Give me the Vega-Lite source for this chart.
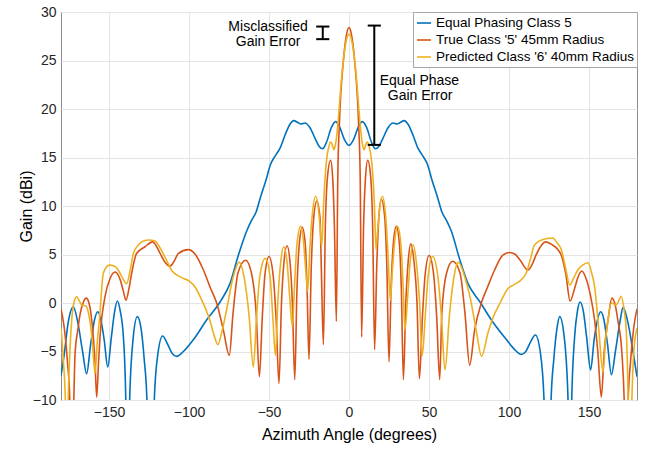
{
"$schema": "https://vega.github.io/schema/vega-lite/v6.json",
"width": 576, "height": 388,
"autosize": {"type": "none"},
"padding": {"left": 61, "top": 12, "right": 20, "bottom": 50},
"background": "white",
"config": {
 "font": "Liberation Sans",
 "view": {"stroke": "#8c8c8c", "strokeWidth": 1},
 "axis": {"gridColor": "#e4e4e4", "domain": false, "ticks": false, "labelColor": "#262626", "titleColor": "#000000", "labelFontSize": 14, "titleFontSize": 16, "titleFontWeight": "normal", "labelPadding": 5},
 "legend": {"orient": "top-right", "offset": 0, "fillColor": "white", "strokeColor": "#a6a6a6", "padding": 3, "labelFontSize": 13.5, "labelColor": "#000000", "symbolType": "stroke", "symbolSize": 196, "symbolStrokeWidth": 1.6, "rowPadding": 2, "labelOffset": 4, "labelLimit": 400}
},
"datasets": {
 "blue": [
  {"x":-180,"y":-7.5},{"x":-178,"y":-5.3},{"x":-175.5,"y":-2.0},{"x":-172.3,"y":-0.4},{"x":-169.5,"y":-2.0},{"x":-166.5,"y":-5.0},{"x":-164,"y":-7.3},{"x":-161.5,"y":-4.3},{"x":-159,"y":-1.7},{"x":-157,"y":-0.9},{"x":-155,"y":-1.8},{"x":-153,"y":-3.8},{"x":-150.8,"y":-6.6},{"x":-148.5,"y":-3.5},{"x":-146.5,"y":-0.9},{"x":-144.8,"y":0.2},{"x":-143,"y":-0.8},{"x":-141,"y":-3.5},{"x":-139.5,"y":-10},{"x":-138.3,"y":-25},{"x":-137.1,"y":-10},{"x":-135,"y":-3.8},{"x":-132.3,"y":-1.4},{"x":-130,"y":-2.6},{"x":-128,"y":-5.8},{"x":-126.3,"y":-10},{"x":-124,"y":-30},{"x":-121.7,"y":-10},{"x":-119.5,"y":-5.3},{"x":-116.5,"y":-3.4},{"x":-113.5,"y":-4.2},{"x":-110.5,"y":-5.2},{"x":-107.7,"y":-5.5},{"x":-103.5,"y":-5.0},{"x":-97.3,"y":-3.8},{"x":-89,"y":-1.75},{"x":-80.6,"y":0.1},{"x":-74.4,"y":2.0},{"x":-69,"y":5.0},{"x":-64,"y":7.4},{"x":-61,"y":8.5},{"x":-58,"y":9.4},{"x":-55.5,"y":10.8},{"x":-52,"y":12.6},{"x":-49,"y":14.3},{"x":-46,"y":15.2},{"x":-43,"y":16.0},{"x":-40,"y":17.3},{"x":-37,"y":18.4},{"x":-34.5,"y":18.8},{"x":-32,"y":18.6},{"x":-30,"y":18.45},{"x":-27.5,"y":18.55},{"x":-24.5,"y":18.1},{"x":-21,"y":16.9},{"x":-18.5,"y":16.1},{"x":-16.5,"y":15.9},{"x":-14,"y":16.6},{"x":-11,"y":18.1},{"x":-8.3,"y":18.7},{"x":-6,"y":18.2},{"x":-3,"y":16.9},{"x":0,"y":16.25},
  {"x":3,"y":16.9},{"x":6,"y":18.2},{"x":8.3,"y":18.7},{"x":11,"y":18.1},{"x":14,"y":16.6},{"x":16.5,"y":15.9},{"x":18.5,"y":16.1},{"x":21,"y":16.9},{"x":24.5,"y":18.1},{"x":27.5,"y":18.55},{"x":30,"y":18.45},{"x":32,"y":18.6},{"x":34.5,"y":18.8},{"x":37,"y":18.4},{"x":40,"y":17.3},{"x":43,"y":16.0},{"x":46,"y":15.2},{"x":49,"y":14.3},{"x":52,"y":12.6},{"x":55.5,"y":10.8},{"x":58,"y":9.4},{"x":61,"y":8.5},{"x":64,"y":7.4},{"x":69,"y":4.6},{"x":74.4,"y":2.0},{"x":81.9,"y":0.1},{"x":89,"y":-1.75},{"x":98.5,"y":-3.8},{"x":103.5,"y":-4.8},{"x":107.7,"y":-5.3},{"x":110.5,"y":-5.0},{"x":113.5,"y":-4.0},{"x":116.5,"y":-3.3},{"x":119.5,"y":-5.0},{"x":121.9,"y":-10},{"x":124,"y":-30},{"x":126.3,"y":-10},{"x":128,"y":-5.8},{"x":130,"y":-2.6},{"x":131.7,"y":-1.4},{"x":134.5,"y":-3.5},{"x":136.9,"y":-10},{"x":138,"y":-25},{"x":139.2,"y":-10},{"x":141,"y":-3.5},{"x":142.8,"y":-0.8},{"x":144.5,"y":0.1},{"x":146.5,"y":-0.9},{"x":148.5,"y":-3.5},{"x":151,"y":-6.9},{"x":153.2,"y":-3.8},{"x":155.2,"y":-1.8},{"x":157.3,"y":-0.9},{"x":159.3,"y":-1.7},{"x":161.6,"y":-4.3},{"x":164,"y":-7.4},{"x":166.5,"y":-5.0},{"x":169.3,"y":-2.0},{"x":171.3,"y":-0.45},{"x":174.3,"y":-2.0},{"x":177.5,"y":-5.0},{"x":180,"y":-7.6}
 ],
 "orange": [
  {"x":-180,"y":-0.6},{"x":-178,"y":-2.5},{"x":-176,"y":-6},{"x":-174.5,"y":-10},{"x":-173.3,"y":-20},{"x":-172,"y":-10},{"x":-171.2,"y":-5.2},{"x":-169.5,"y":-2.8},{"x":-168,"y":-1.1},{"x":-166,"y":0.1},{"x":-164.2,"y":0.5},{"x":-162.5,"y":0},{"x":-160.8,"y":-1.75},{"x":-158.7,"y":-6.2},{"x":-157.7,"y":-9.7},{"x":-156.5,"y":-6},{"x":-155.6,"y":-3.5},{"x":-152.5,"y":0.65},{"x":-149.4,"y":2.5},{"x":-146.2,"y":3.2},{"x":-143,"y":2.4},{"x":-141,"y":1.2},{"x":-139.4,"y":0.3},{"x":-137.5,"y":1.5},{"x":-135.8,"y":3.1},{"x":-132.8,"y":5.1},{"x":-127.5,"y":5.8},{"x":-122.7,"y":6.3},{"x":-118,"y":5.1},{"x":-115,"y":4.2},{"x":-111.9,"y":3.8},{"x":-109,"y":4.4},{"x":-106.7,"y":5.1},{"x":-100.4,"y":5.5},{"x":-96,"y":5.0},{"x":-91,"y":3.4},{"x":-86.5,"y":1.5},{"x":-82.7,"y":0},{"x":-78.5,"y":-2.8},{"x":-74.8,"y":-5.4},{"x":-72.5,"y":-1.1},{"x":-69.4,"y":3.1},{"x":-64.6,"y":4.4},{"x":-61,"y":3.1},{"x":-58,"y":-1.1},{"x":-56,"y":-7.6},{"x":-54.2,"y":-1.5},{"x":-52.5,"y":3.0},{"x":-50,"y":4.8},{"x":-47.5,"y":3.0},{"x":-45.6,"y":-1.5},{"x":-43.75,"y":-8.3},{"x":-42.2,"y":0},{"x":-40.7,"y":4.1},{"x":-38.75,"y":5.9},{"x":-36.8,"y":4.1},{"x":-35.4,"y":0},{"x":-33.9,"y":-7.9},{"x":-32.5,"y":1.5},{"x":-31.1,"y":6.0},{"x":-29.2,"y":7.8},{"x":-27.3,"y":6.0},{"x":-26.2,"y":1.5},{"x":-25,"y":-5.8},{"x":-23.6,"y":3.6},{"x":-22.1,"y":8.7},{"x":-20.1,"y":10.5},{"x":-18.1,"y":8.7},{"x":-17.3,"y":3.6},{"x":-16,"y":-4.3},{"x":-14.8,"y":7.8},{"x":-13.5,"y":12.9},{"x":-11.5,"y":14.7},{"x":-10.2,"y":12.9},{"x":-9.1,"y":7.8},{"x":-7.9,"y":-1.9},{"x":-7,"y":13},{"x":-6,"y":18.5},{"x":-3.5,"y":25},{"x":-1.4,"y":27.8},{"x":0,"y":28.4},
  {"x":1.4,"y":27.8},{"x":3.5,"y":25},{"x":6,"y":18.5},{"x":7,"y":13},{"x":7.9,"y":-3.5},{"x":9.1,"y":7.8},{"x":10.3,"y":12.9},{"x":11.7,"y":14.7},{"x":13.6,"y":12.9},{"x":14.8,"y":7.8},{"x":16,"y":-4.8},{"x":17.35,"y":3.8},{"x":18.7,"y":8.9},{"x":20.2,"y":10.7},{"x":22.3,"y":8.9},{"x":23.65,"y":3.8},{"x":25,"y":-6.05},{"x":26.3,"y":1.5},{"x":27.7,"y":6.1},{"x":29.6,"y":7.9},{"x":31.5,"y":6.1},{"x":32.7,"y":1.5},{"x":34,"y":-7.9},{"x":35.5,"y":0},{"x":37,"y":4.3},{"x":38.6,"y":6.1},{"x":40.6,"y":4.3},{"x":42.5,"y":0},{"x":44,"y":-7.8},{"x":45.9,"y":-1.4},{"x":47.7,"y":3.1},{"x":50.1,"y":4.9},{"x":52.8,"y":3.1},{"x":54.8,"y":-1.4},{"x":56.7,"y":-7.9},{"x":58,"y":-1.1},{"x":61,"y":3.1},{"x":64.8,"y":4.3},{"x":69.4,"y":3.1},{"x":72.5,"y":-1.1},{"x":75.4,"y":-6.4},{"x":78.5,"y":-2.8},{"x":82.7,"y":0},{"x":86.5,"y":1.6},{"x":91,"y":3.4},{"x":96,"y":4.9},{"x":100.2,"y":5.2},{"x":104,"y":5.0},{"x":107,"y":4.4},{"x":111.8,"y":3.4},{"x":114.5,"y":4.0},{"x":117.3,"y":5.1},{"x":122.9,"y":6.3},{"x":127,"y":6.0},{"x":130.6,"y":5.5},{"x":132.5,"y":5.0},{"x":135.5,"y":3.0},{"x":138.2,"y":0.2},{"x":141,"y":1.5},{"x":143,"y":2.6},{"x":145.5,"y":3.3},{"x":148,"y":2.6},{"x":151,"y":0.7},{"x":153.5,"y":-1.75},{"x":155.5,"y":-5},{"x":157.7,"y":-9.7},{"x":159.5,"y":-5},{"x":161.9,"y":-1.75},{"x":164.3,"y":0.5},{"x":166.5,"y":-0.3},{"x":168,"y":-1.75},{"x":170.5,"y":-5},{"x":172,"y":-10},{"x":173.3,"y":-20},{"x":174.5,"y":-10},{"x":176,"y":-6},{"x":178,"y":-2.5},{"x":180,"y":-0.6}
 ],
 "yellow": [
  {"x":-180,"y":-2.6},{"x":-178.5,"y":-6},{"x":-177.3,"y":-10},{"x":-176.5,"y":-20},{"x":-175.5,"y":-10},{"x":-174.3,"y":-4.5},{"x":-173.3,"y":-1.75},{"x":-171.5,"y":0.3},{"x":-170.2,"y":0.65},{"x":-168.5,"y":0.2},{"x":-167,"y":-0.2},{"x":-164.4,"y":-0.3},{"x":-162.5,"y":-1.3},{"x":-160.5,"y":-3.8},{"x":-158.75,"y":-7.25},{"x":-157.3,"y":-4},{"x":-156,"y":-1.75},{"x":-153.5,"y":3.1},{"x":-149.8,"y":3.9},{"x":-146.5,"y":3.8},{"x":-143.5,"y":3.2},{"x":-141,"y":2.4},{"x":-139,"y":2.0},{"x":-136.5,"y":3.6},{"x":-134.8,"y":5.1},{"x":-131.5,"y":6.0},{"x":-128.5,"y":6.4},{"x":-125,"y":6.5},{"x":-121.25,"y":6.4},{"x":-117.5,"y":5.5},{"x":-114,"y":4.4},{"x":-110.5,"y":3.3},{"x":-107.7,"y":2.9},{"x":-103,"y":2.5},{"x":-99.4,"y":2.2},{"x":-96,"y":1.6},{"x":-93,"y":0.65},{"x":-87,"y":-1.75},{"x":-84,"y":-3.5},{"x":-82,"y":-4.3},{"x":-79.5,"y":-3},{"x":-76.5,"y":-0.7},{"x":-72.5,"y":2.6},{"x":-68.6,"y":4.2},{"x":-65.5,"y":2.6},{"x":-62.5,"y":-1.2},{"x":-59.8,"y":-6.6},{"x":-57.8,"y":-1.5},{"x":-55.7,"y":2.8},{"x":-52.3,"y":4.6},{"x":-49.4,"y":2.8},{"x":-47.6,"y":-1.5},{"x":-46,"y":-5.4},{"x":-44.4,"y":0.4},{"x":-42.8,"y":4.0},{"x":-40.8,"y":5.8},{"x":-38.6,"y":4.0},{"x":-37,"y":0.5},{"x":-35.4,"y":-2.4},{"x":-34,"y":2.0},{"x":-32.5,"y":6.1},{"x":-30.2,"y":7.9},{"x":-28.3,"y":6.1},{"x":-27.1,"y":3.5},{"x":-25.8,"y":1.2},{"x":-24.5,"y":5.5},{"x":-22.9,"y":9.2},{"x":-20.8,"y":11},{"x":-18.8,"y":9.2},{"x":-17.8,"y":7.2},{"x":-17.1,"y":5.8},{"x":-15.8,"y":10.5},{"x":-14.2,"y":14.5},{"x":-12.5,"y":16.2},{"x":-11.4,"y":16.6},{"x":-10.4,"y":16.3},{"x":-9.5,"y":15.8},{"x":-8.6,"y":16.2},{"x":-7.7,"y":17.2},{"x":-6.7,"y":18.9},{"x":-4.6,"y":23.3},{"x":-2.5,"y":26.3},{"x":-1,"y":27.5},{"x":0,"y":27.7},
  {"x":1,"y":27.5},{"x":2.5,"y":26.3},{"x":4.6,"y":23.3},{"x":6.7,"y":18.9},{"x":7.7,"y":17.2},{"x":8.6,"y":16.2},{"x":9.5,"y":15.8},{"x":10.4,"y":16.3},{"x":11.4,"y":16.6},{"x":12.5,"y":16.2},{"x":14.2,"y":14.5},{"x":15.8,"y":10.5},{"x":16.9,"y":5.5},{"x":17.8,"y":7.3},{"x":19,"y":9.5},{"x":20.8,"y":11},{"x":22.8,"y":9.2},{"x":24.4,"y":5.0},{"x":25.8,"y":0.3},{"x":27.1,"y":3.3},{"x":28.4,"y":6.1},{"x":30.3,"y":7.9},{"x":32.4,"y":6.1},{"x":33.8,"y":1.8},{"x":35,"y":-2.8},{"x":36.6,"y":0.5},{"x":38.2,"y":4.2},{"x":40,"y":6.0},{"x":42.1,"y":4.2},{"x":44,"y":0.4},{"x":45.8,"y":-5.4},{"x":47.6,"y":-1.5},{"x":49.5,"y":2.8},{"x":52.3,"y":4.8},{"x":55.5,"y":2.8},{"x":57.8,"y":-1.5},{"x":60,"y":-6.9},{"x":62.8,"y":-1.2},{"x":65.5,"y":2.6},{"x":68.3,"y":4.2},{"x":72.5,"y":2.6},{"x":75.6,"y":0.65},{"x":79.8,"y":-3.1},{"x":82.8,"y":-5.5},{"x":87,"y":-3.0},{"x":90.5,"y":-1.3},{"x":94.4,"y":0},{"x":99.4,"y":1.5},{"x":102.7,"y":1.85},{"x":107.7,"y":2.4},{"x":110.8,"y":3.1},{"x":113.5,"y":4.6},{"x":116,"y":6.0},{"x":122.3,"y":6.6},{"x":127.5,"y":6.7},{"x":130,"y":6.2},{"x":132.7,"y":5.5},{"x":135.5,"y":3.5},{"x":138,"y":1.85},{"x":140.5,"y":2.6},{"x":143,"y":3.4},{"x":146,"y":3.9},{"x":149.4,"y":4.15},{"x":151.5,"y":3.2},{"x":153.5,"y":1.7},{"x":156,"y":-2.5},{"x":158.75,"y":-7.1},{"x":160.5,"y":-3.5},{"x":161.9,"y":-1.75},{"x":164,"y":0},{"x":167,"y":-0.2},{"x":170.2,"y":0.7},{"x":172,"y":-0.8},{"x":173.3,"y":-2.8},{"x":174.5,"y":-10},{"x":175.6,"y":-20},{"x":176.8,"y":-10},{"x":178,"y":-5},{"x":180,"y":-2.6}
 ]
},
"encoding": {
 "x": {"field": "x", "type": "quantitative", "scale": {"domain": [-180, 180], "nice": false, "zero": false}, "axis": {"title": "Azimuth Angle (degrees)", "values": [-150, -100, -50, 0, 50, 100, 150], "titlePadding": 7}},
 "y": {"field": "y", "type": "quantitative", "scale": {"domain": [-10, 30], "nice": false, "zero": false}, "axis": {"title": "Gain (dBi)", "values": [-10, -5, 0, 5, 10, 15, 20, 25, 30], "titlePadding": -2}}
},
"layer": [
 {"data": {"name": "blue"}, "mark": {"type": "line", "clip": true, "interpolate": "monotone", "strokeWidth": 1.6},
  "encoding": {"color": {"datum": "Equal Phasing Class 5", "type": "nominal", "scale": {"domain": ["Equal Phasing Class 5", "True Class '5' 45mm Radius", "Predicted Class '6' 40mm Radius"], "range": ["#0072BD", "#D95319", "#EDB120"]}, "legend": {"title": null}}}},
 {"data": {"name": "orange"}, "mark": {"type": "line", "clip": true, "interpolate": "monotone", "strokeWidth": 1.6},
  "encoding": {"color": {"datum": "True Class '5' 45mm Radius", "type": "nominal"}}},
 {"data": {"name": "yellow"}, "mark": {"type": "line", "clip": true, "interpolate": "monotone", "strokeWidth": 1.6},
  "encoding": {"color": {"datum": "Predicted Class '6' 40mm Radius", "type": "nominal"}}},
 {"data": {"values": [
   {"x": -16.4, "x2": -16.4, "y": 27.2, "y2": 28.5},
   {"x": -20.5, "x2": -12.3, "y": 28.5, "y2": 28.5},
   {"x": -20.5, "x2": -12.3, "y": 27.2, "y2": 27.2},
   {"x": 15.8, "x2": 15.8, "y": 16.3, "y2": 28.6},
   {"x": 11.7, "x2": 19.9, "y": 28.6, "y2": 28.6},
   {"x": 11.7, "x2": 19.9, "y": 16.3, "y2": 16.3}
  ]},
  "mark": {"type": "rule", "color": "#000000", "strokeWidth": 2},
  "encoding": {"x2": {"field": "x2"}, "y2": {"field": "y2"}}},
 {"data": {"values": [
   {"x": -50.6, "y": 28.45, "t": "Misclassified"},
   {"x": -50.6, "y": 26.9, "t": "Gain Error"},
   {"x": 44, "y": 22.9, "t": "Equal Phase"},
   {"x": 44.4, "y": 21.3, "t": "Gain Error"}
  ]},
  "mark": {"type": "text", "fontSize": 14, "color": "#000000", "align": "center", "baseline": "middle"},
  "encoding": {"text": {"field": "t"}}}
]
}
